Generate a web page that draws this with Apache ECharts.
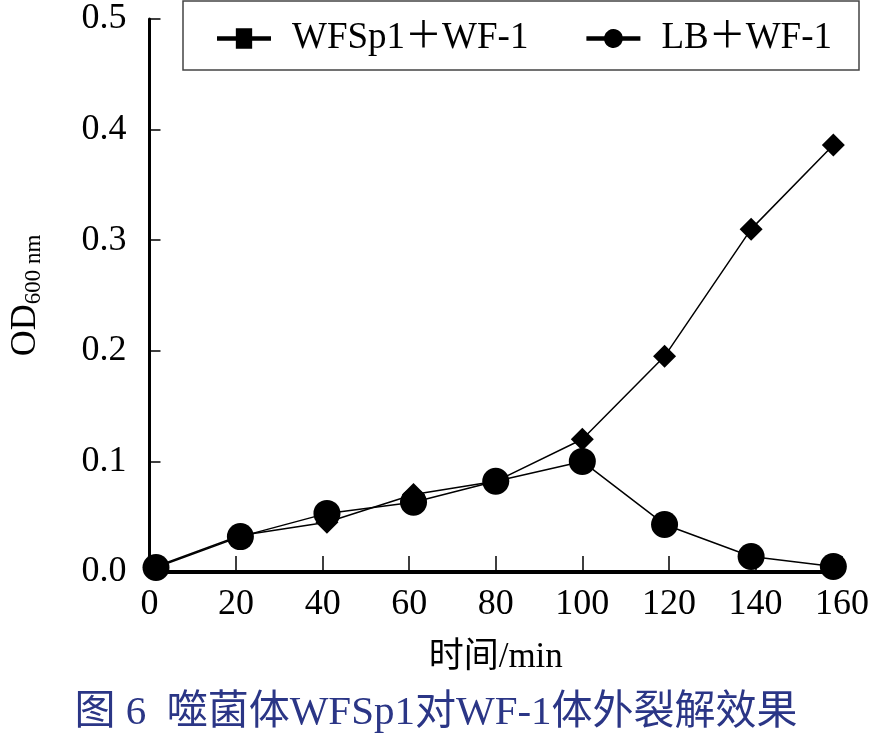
<!DOCTYPE html>
<html><head><meta charset="utf-8">
<script src="https://cdn.jsdelivr.net/npm/echarts@6/dist/echarts.min.js"></script>
<style>html,body{margin:0;padding:0;background:#fff}#c{width:872px;height:738px}</style>
</head><body><div id="c"></div>
<script>
const seriesNames = ['WFSp1＋WF-1', 'LB＋WF-1'];
const timeWFSp1 = [1.5, 21, 41, 61, 80, 100, 119, 139, 158];
const odWFSp1 = [0.005, 0.033, 0.045, 0.070, 0.082, 0.120, 0.195, 0.310, 0.386];
const timeLB = [1.5, 21, 41, 61, 80, 100, 119, 139, 158];
const odLB = [0.004, 0.032, 0.053, 0.063, 0.082, 0.100, 0.043, 0.014, 0.005];
const xTicks = [0, 20, 40, 60, 80, 100, 120, 140, 160];
const yTicks = ['0.0', '0.1', '0.2', '0.3', '0.4', '0.5'];
const xName = '时间/min';
const titleText = '图 6  噬菌体WFSp1对WF-1体外裂解效果';

const serif = '"Liberation Serif","Times New Roman","Noto Sans CJK SC",serif';
const chart = echarts.init(document.getElementById('c'), null, {renderer: 'canvas'});
const sqIcon = 'path://M0,9H15V2.5H28V9H43V12.5H28V19H15V12.5H0Z';
const ciIcon = 'path://M0,9H14.2A7.5,7.5 0 0,1 28.8,9H43V12.5H28.8A7.5,7.5 0 0,1 14.2,12.5H0Z';
chart.setOption({
  animation: false,
  backgroundColor: '#fff',
  title: {
    text: titleText, left: 'center', top: 688,
    textStyle: {fontFamily: serif, fontSize: 41, fontWeight: 'normal', color: '#2b3686'}
  },
  graphic: [{type: 'rect', shape: {x: 183, y: 1, width: 676, height: 69}, style: {fill: 'none', stroke: '#444', lineWidth: 1.5}}],
  legend: {
    left: 212, top: 15, itemGap: 58, itemWidth: 54, itemHeight: 24,
    textStyle: {fontFamily: serif, fontSize: 37, color: '#000', padding: [0, 0, 0, 16]},
    data: [{name: seriesNames[0], icon: sqIcon}, {name: seriesNames[1], icon: ciIcon}]
  },
  grid: {left: 146, right: 30, top: 19, bottom: 166},
  xAxis: {
    type: 'value', min: 0, max: 160, interval: 20,
    name: xName, nameLocation: 'middle', nameGap: 68,
    nameTextStyle: {fontFamily: serif, fontSize: 35, color: '#000'},
    axisLine: {lineStyle: {color: '#000', width: 4}},
    axisTick: {inside: true, length: 16, lineStyle: {color: '#000', width: 1.5}},
    axisLabel: {fontFamily: serif, fontSize: 36, color: '#000', margin: 15, formatter: v => xTicks.includes(v) ? String(v) : ''},
    splitLine: {show: false}
  },
  yAxis: {
    type: 'value', min: 0, max: 0.5, interval: 0.1,
    name: '{a|OD}{b|600 nm}', nameLocation: 'middle', nameGap: 104, nameRotate: 90,
    nameTextStyle: {rich: {
      a: {fontFamily: serif, fontSize: 36, color: '#000'},
      b: {fontFamily: serif, fontSize: 23, color: '#000', verticalAlign: 'bottom', padding: [16, 0, 0, 0]}
    }},
    axisLine: {show: true, lineStyle: {color: '#000', width: 3}},
    axisTick: {inside: true, length: 11, lineStyle: {color: '#000', width: 1.5}},
    axisLabel: {fontFamily: serif, fontSize: 36, color: '#000', margin: 23, formatter: v => yTicks[Math.round(v * 10)]},
    splitLine: {show: false}
  },
  series: [
    {name: seriesNames[0], type: 'line', symbol: 'diamond', symbolSize: 23,
     data: timeWFSp1.map((t, i) => [t, odWFSp1[i]]),
     itemStyle: {color: '#000'}, lineStyle: {color: '#000', width: 1.5}, z: 3},
    {name: seriesNames[1], type: 'line', symbol: 'circle', symbolSize: 27,
     data: timeLB.map((t, i) => [t, odLB[i]]),
     itemStyle: {color: '#000'}, lineStyle: {color: '#000', width: 1.5}, z: 2}
  ]
});
</script></body></html>
